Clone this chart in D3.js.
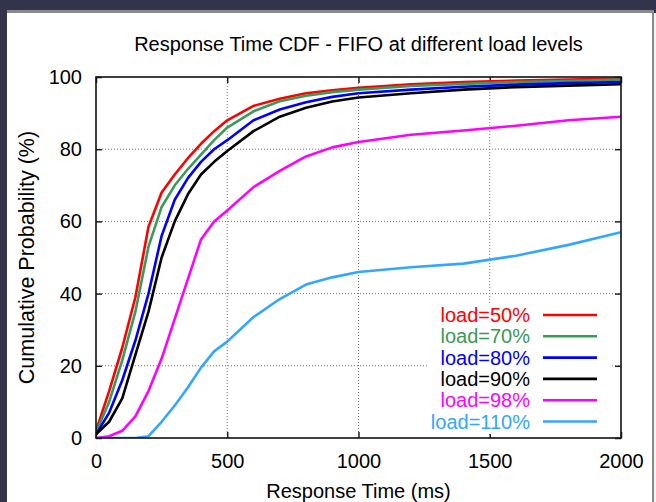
<!DOCTYPE html>
<html>
<head>
<meta charset="utf-8">
<script src="https://cdn.jsdelivr.net/npm/d3@7.9.0/dist/d3.min.js"></script>
<style>
  html, body { margin: 0; padding: 0; background: #34334c; }
  svg { display: block; font-family: "Liberation Sans", Arial, sans-serif; }
</style>
</head>
<body>
<svg width="656" height="502"></svg>
<script>
// response time (ms) sample points shared by all series
const times = [0, 50, 100, 150, 200, 250, 300, 350, 400, 450, 500, 600, 700, 800, 900, 1000, 1200, 1400, 1600, 1800, 2000];

const load50 = [2, 13, 25, 39, 58.5, 68, 73, 77.5, 81.5, 85, 88, 92, 94, 95.5, 96.3, 97, 98, 98.6, 99, 99.3, 99.6];
const load70 = [1.5, 10, 21.5, 35, 53, 64, 70, 74.5, 78.5, 82.5, 86, 90.5, 93.3, 94.8, 95.8, 96.5, 97.5, 98.1, 98.6, 98.9, 99.3];
const load80 = [1, 7, 16, 27, 40, 56, 66, 72, 76.5, 80, 82.5, 88, 91, 93, 94.5, 95.5, 96.5, 97.3, 97.9, 98.3, 98.6];
const load90 = [1, 4.5, 11, 23, 35, 50, 60, 67.5, 73, 76.5, 79.5, 85, 89, 91.5, 93.2, 94.3, 95.5, 96.5, 97.2, 97.6, 98];
const load98 = [0, 0.5, 2, 6, 13, 22, 33, 44, 55, 60, 63, 69.5, 74, 78, 80.5, 82, 84, 85.2, 86.5, 88, 89];
const load110 = [0, 0, 0, 0, 0.5, 4.5, 9, 14, 19.5, 24, 26.7, 33.5, 38.5, 42.5, 44.5, 46, 47.3, 48.3, 50.5, 53.5, 57];

const labels = ["load=50%", "load=70%", "load=80%", "load=90%", "load=98%", "load=110%"];
const colors = ["#ff0000", "#3a9a58", "#0000ff", "#000000", "#ff00ff", "#33a6ff"];
const seriesValues = [load50, load70, load80, load90, load98, load110];

const xTicks = [0, 500, 1000, 1500, 2000];
const yTicks = [0, 20, 40, 60, 80, 100];

const svg = d3.select("svg");

// slide-like frame around the chart
svg.append("rect").attr("x", 7).attr("y", 10).attr("width", 647).attr("height", 492).attr("fill", "#8a8a8a");
svg.append("rect").attr("x", 7).attr("y", 13).attr("width", 645).attr("height", 489).attr("fill", "#ffffff");
svg.append("rect").attr("x", 654).attr("y", 13).attr("width", 2).attr("height", 489).attr("fill", "#f4f4f4");

const margin = { left: 96, right: 35, top: 77, bottom: 64 };
const width = 656 - margin.left - margin.right;
const height = 502 - margin.top - margin.bottom;

const x = d3.scaleLinear().domain([0, 2000]).range([0, width]);
const y = d3.scaleLinear().domain([0, 100]).range([height, 0]);

const g = svg.append("g").attr("transform", `translate(${margin.left},${margin.top})`);

// grid
g.selectAll(".gx").data(xTicks.slice(1, -1)).join("line")
  .attr("x1", d => x(d)).attr("x2", d => x(d)).attr("y1", 0).attr("y2", height)
  .attr("stroke", "#777").attr("stroke-width", 1).attr("stroke-dasharray", "1,2");
g.selectAll(".gy").data(yTicks.slice(1, -1)).join("line")
  .attr("x1", 0).attr("x2", width).attr("y1", d => y(d)).attr("y2", d => y(d))
  .attr("stroke", "#777").attr("stroke-width", 1).attr("stroke-dasharray", "1,2");

// axes: ticks pointing inward on all four sides
const tick = 6;
const fmt = d3.format("d");
const xAxis = g.append("g").attr("transform", `translate(0,${height})`)
  .call(d3.axisBottom(x).tickValues(xTicks).tickSize(-tick).tickFormat(fmt).tickPadding(16));
const xAxisTop = g.append("g")
  .call(d3.axisTop(x).tickValues(xTicks).tickSize(-tick).tickFormat(""));
const yAxis = g.append("g")
  .call(d3.axisLeft(y).tickValues(yTicks).tickSize(-tick).tickFormat(fmt).tickPadding(14));
const yAxisRight = g.append("g").attr("transform", `translate(${width},0)`)
  .call(d3.axisRight(y).tickValues(yTicks).tickSize(-tick).tickFormat(""));

[xAxis, xAxisTop, yAxis, yAxisRight].forEach(a => {
  a.select(".domain").remove();
  a.selectAll(".tick line").attr("stroke", "#222").attr("stroke-width", 1.5);
  a.selectAll("text").attr("font-size", 20).attr("fill", "#000")
    .attr("font-family", "Liberation Sans, Arial, sans-serif");
});

// legend background knocks out the grid
const legendX = 434, legendY = 226;
g.append("rect").attr("x", legendX - 103).attr("y", legendY).attr("width", 184).attr("height", 131)
  .attr("fill", "#fff");

// curves
g.append("clipPath").attr("id", "clip").append("rect").attr("width", width).attr("height", height);
const line = d3.line().x(d => x(d[0])).y(d => y(d[1]));

seriesValues.forEach((vals, i) => {
  g.append("path")
    .datum(times.map((t, j) => [t, vals[j]]))
    .attr("d", line)
    .attr("fill", "none")
    .attr("stroke", colors[i])
    .attr("stroke-width", 2.6)
    .attr("stroke-linejoin", "round")
    .attr("clip-path", "url(#clip)");
});

// legend
labels.forEach((lab, i) => {
  const ly = legendY + 12 + i * 21.3;
  g.append("text").attr("x", legendX).attr("y", ly).attr("dy", "0.35em")
    .attr("text-anchor", "end").attr("font-size", 20).attr("fill", colors[i]).text(lab);
  g.append("line").attr("x1", legendX + 13).attr("x2", legendX + 67)
    .attr("y1", ly).attr("y2", ly).attr("stroke", colors[i]).attr("stroke-width", 2.6);
});

// frame
g.append("rect").attr("width", width).attr("height", height)
  .attr("fill", "none").attr("stroke", "#111").attr("stroke-width", 1.6);

// titles
svg.append("text").attr("x", margin.left + width / 2).attr("y", 51)
  .attr("text-anchor", "middle").attr("font-size", 20).text("Response Time CDF - FIFO at different load levels");
svg.append("text").attr("x", margin.left + width / 2).attr("y", 498)
  .attr("text-anchor", "middle").attr("font-size", 20).text("Response Time (ms)");
svg.append("text").attr("transform", `translate(34,${margin.top + height / 2}) rotate(-90)`)
  .attr("text-anchor", "middle").attr("font-size", 21.5).text("Cumulative Probability (%)");
</script>
</body>
</html>
